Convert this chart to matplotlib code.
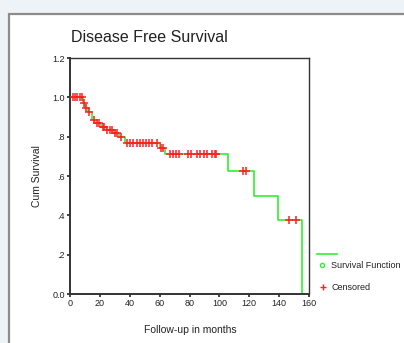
import numpy as np
import matplotlib
matplotlib.use('Agg')
import matplotlib.pyplot as plt
from matplotlib.patches import Rectangle
from matplotlib.lines import Line2D

plt.rcParams['font.family'] = ['Liberation Sans', 'DejaVu Sans']

# Kaplan-Meier steps (time in months, cumulative survival after the step)
event_times = [0, 8.5, 10, 12, 14.5, 17, 20.5, 24, 29, 33, 36.5, 60, 63.5, 105.5, 123, 139, 155]
surv_values = [1.0, 0.97, 0.945, 0.925, 0.885, 0.87, 0.85, 0.835, 0.82, 0.80, 0.77, 0.74, 0.71,
               0.625, 0.50, 0.375, 0.0]
end_time = 155

# censored observations
censor_times = [2, 3.5, 5, 6.5, 8, 9.5, 11, 13, 16, 18, 19.5, 22, 23, 25, 26.5, 28, 30, 31.5, 34,
                38, 40, 42, 45, 47, 49, 51, 53, 55, 58, 61, 62.5,
                67, 69, 71, 73, 79, 81, 85, 87, 89.5, 92, 95, 97, 98,
                116, 117.5, 146.5, 151]

xticks = [0, 20, 40, 60, 80, 100, 120, 140, 160]
yticks = [0.0, 0.2, 0.4, 0.6, 0.8, 1.0, 1.2]
ytick_labels = ['0.0', '.2', '.4', '.6', '.8', '1.0', '1.2']

fig = plt.figure(figsize=(4.04, 3.43), dpi=100)
fig.patch.set_facecolor('#eef3f7')

# white panel with grey frame
fig.add_artist(Rectangle((9 / 404, -0.1), 1.2, 1 - 14 / 343 + 0.1, transform=fig.transFigure,
                         facecolor='white', edgecolor='#8c8c8c', lw=1.6, zorder=0))

ax = fig.add_axes([70 / 404, 1 - 294 / 343, 239 / 404, 236 / 343])
ax.set_facecolor('white')

t = list(event_times) + [end_time]
s = list(surv_values) + [surv_values[-1]]
ax.step(t, s, where='post', color='#33ee33', lw=1.2, zorder=2)

ct = np.array(censor_times)
idx = np.searchsorted(event_times, ct, side='right') - 1
cs = np.array(surv_values)[idx]
ax.plot(ct, cs, linestyle='none', marker='+', color='#ff2020', markersize=5.5,
        markeredgewidth=1.1, zorder=3)

ax.set_xlim(0, 160)
ax.set_ylim(0, 1.2)
ax.set_xticks(xticks)
ax.set_xticklabels([str(x) for x in xticks], fontsize=6.5)
ax.set_yticks(yticks)
ax.set_yticklabels(ytick_labels, fontsize=6.5)
ax.tick_params(direction='out', length=2.5, width=1.2, pad=1, colors='#222222')

for side in ['left', 'bottom']:
    ax.spines[side].set_linewidth(1.4)
    ax.spines[side].set_color('#333333')
for side in ['top', 'right']:
    ax.spines[side].set_linewidth(1.0)
    ax.spines[side].set_color('#333333')

fig.text(71 / 404, 1 - 37 / 343, 'Disease Free Survival', fontsize=11.5, color='#222222',
         ha='left', va='center')
fig.text(37 / 404, 1 - 176 / 343, 'Cum Survival', fontsize=7.5, rotation=90,
         ha='center', va='center', color='#222222')
fig.text(190 / 404, 1 - 330 / 343, 'Follow-up in months', fontsize=7.5,
         ha='center', va='center', color='#222222')

# legend drawn by hand, SPSS style
fig.add_artist(Line2D([317 / 404, 337 / 404], [1 - 254 / 343, 1 - 254 / 343],
                      transform=fig.transFigure, color='#33ee33', lw=1.2))
fig.add_artist(Line2D([322 / 404], [1 - 265 / 343], transform=fig.transFigure, marker='o',
                      markersize=3, markerfacecolor='none', markeredgecolor='#33ee33',
                      markeredgewidth=1.0, linestyle='none'))
fig.text(331 / 404, 1 - 265 / 343, 'Survival Function', fontsize=6.5, ha='left', va='center',
         color='#222222')
fig.add_artist(Line2D([323 / 404], [1 - 287 / 343], transform=fig.transFigure, marker='+',
                      markersize=4.5, markeredgewidth=1.0, color='#ff2020', linestyle='none'))
fig.text(332 / 404, 1 - 287 / 343, 'Censored', fontsize=6.5, ha='left', va='center',
         color='#222222')

fig.savefig('out.png', dpi=100, facecolor=fig.get_facecolor())
